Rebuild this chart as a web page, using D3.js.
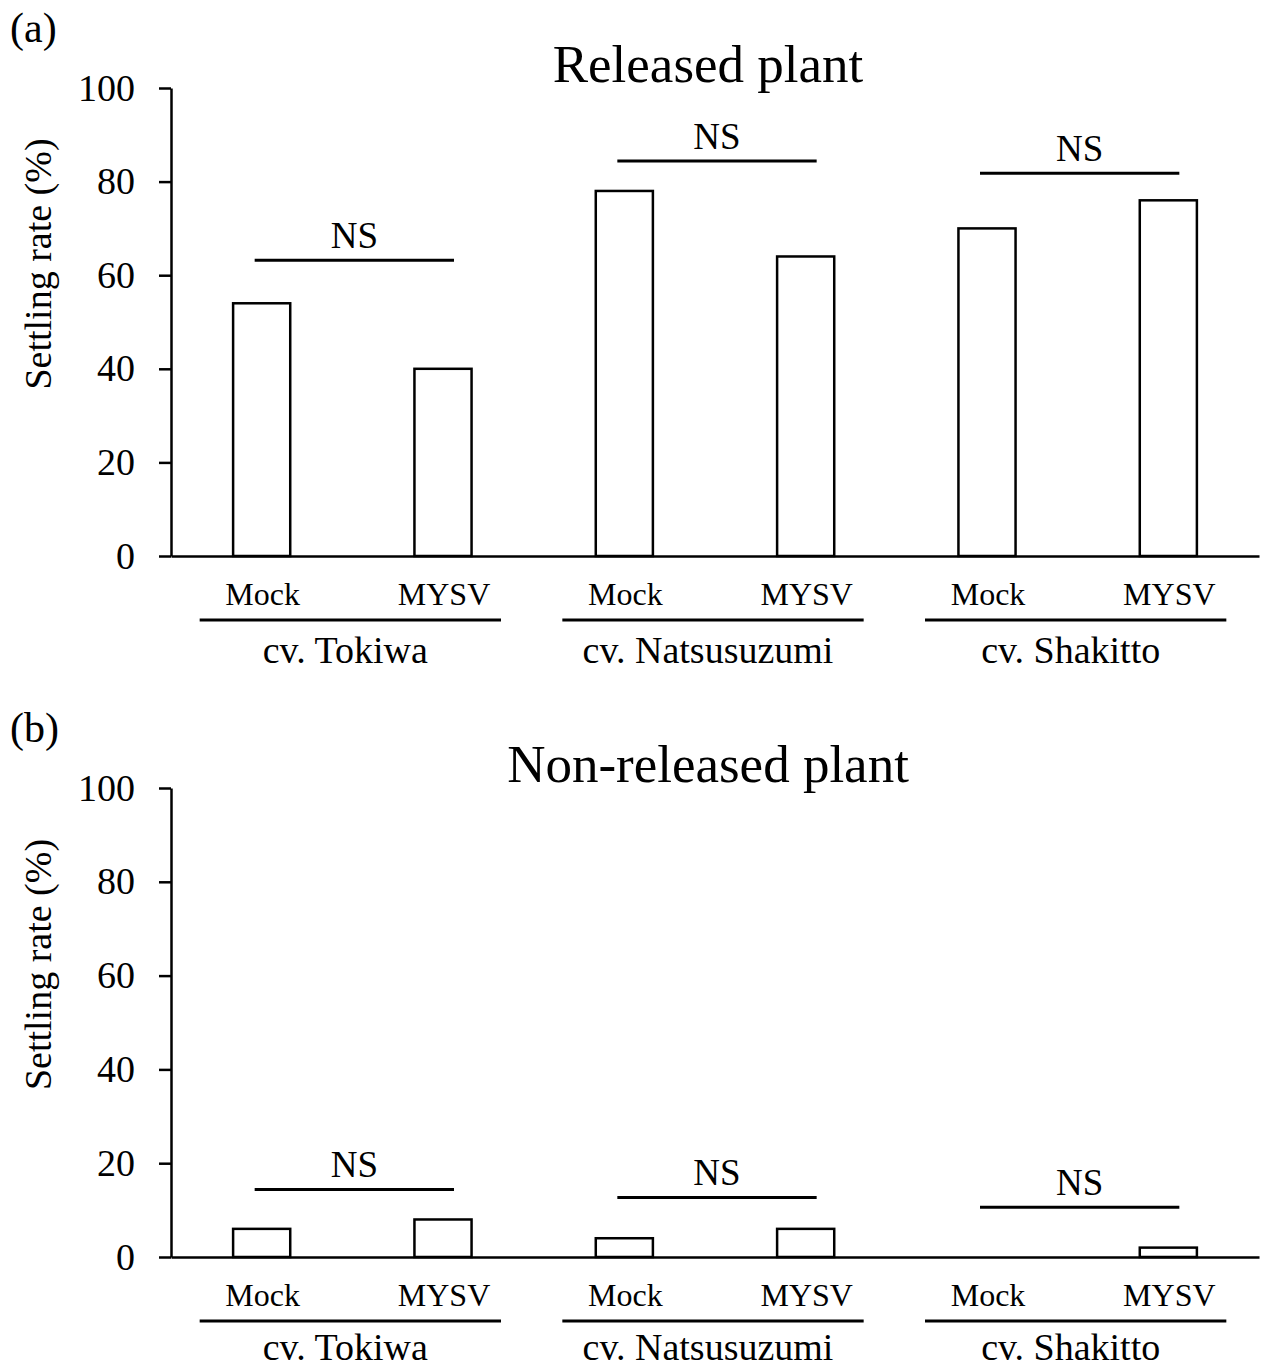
<!DOCTYPE html>
<html><head><meta charset="utf-8">
<script src="https://cdn.jsdelivr.net/npm/d3@7"></script>
<style>
html,body{margin:0;padding:0;background:#fff;}
text{font-family:"Liberation Serif","Times New Roman",serif;fill:#000;}
</style></head>
<body><svg id="c" width="1262" height="1369"></svg>
<script>
// ---- data ----
const cultivars = ["cv. Tokiwa", "cv. Natsusuzumi", "cv. Shakitto"];
const treatments = ["Mock", "MYSV"];
const releasedMock = [54, 78, 70];
const releasedMYSV = [40, 64, 76];
const releasedNS = [63.2, 84.4, 81.8];
const nonReleasedMock = [6, 4, 0];
const nonReleasedMYSV = [8, 6, 2];
const nonReleasedNS = [14.4, 12.7, 10.6];
const yTicks = [0, 20, 40, 60, 80, 100];
const sigLabel = "NS";
const yLabel = "Settling rate (%)";

const panels = [
  {tag: "(a)", title: "Released plant", mock: releasedMock, mysv: releasedMYSV, ns: releasedNS, top: 88, bottom: 556},
  {tag: "(b)", title: "Non-released plant", mock: nonReleasedMock, mysv: nonReleasedMYSV, ns: nonReleasedNS, top: 788, bottom: 1257}
];

const svg = d3.select("#c");
const keys = [];
cultivars.forEach((c, i) => treatments.forEach(t => keys.push(c + "|" + t)));

const x = d3.scaleBand().domain(keys).range([171, 1259]).paddingInner(0.685).paddingOuter(0.3425);
const bw = x.bandwidth();
const cx = k => x(k) + bw / 2;

panels.forEach((p, pi) => {
  const g = svg.append("g");
  const y = d3.scaleLinear().domain([0, 100]).range([p.bottom, p.top]);

  // panel tag & title
  g.append("text").attr("x", 10).attr("y", p.top - 46).attr("font-size", 42).text(p.tag);
  g.append("text").attr("x", 708).attr("y", p.top - 6).attr("text-anchor", "middle").attr("font-size", 53).text(p.title);

  // bars
  const rows = [];
  cultivars.forEach((c, i) => {
    rows.push({k: c + "|Mock", v: p.mock[i]});
    rows.push({k: c + "|MYSV", v: p.mysv[i]});
  });
  g.selectAll("rect.bar").data(rows.filter(d => d.v > 0)).join("rect")
    .attr("x", d => x(d.k)).attr("y", d => y(d.v))
    .attr("width", bw).attr("height", d => y(0) - y(d.v))
    .attr("fill", "#fff").attr("stroke", "#000").attr("stroke-width", 2.5);

  // y axis
  const ya = d3.axisLeft(y).tickValues(yTicks).tickSize(12).tickPadding(24).tickSizeOuter(0);
  const yg = g.append("g").attr("transform", `translate(${x.range()[0]},0)`).call(ya);
  yg.selectAll("path,line").attr("stroke", "#000").attr("stroke-width", 2.5);
  yg.selectAll("text").attr("font-size", 38).attr("font-family", "Liberation Serif").attr("fill", "#000");

  // x axis line
  const xa = d3.axisBottom(x).tickSize(0).tickSizeOuter(0).tickFormat(k => k.split("|")[1]);
  const xg = g.append("g").attr("transform", `translate(0,${y(0)})`).call(xa);
  xg.select("path.domain").attr("stroke", "#000").attr("stroke-width", 2.5);
  xg.selectAll("text").attr("font-size", 32).attr("font-family", "Liberation Serif").attr("fill", "#000")
    .attr("y", 49).attr("dy", 0).attr("dx", 1);

  // group underline and cultivar labels
  cultivars.forEach((c, i) => {
    const a = cx(c + "|Mock"), b = cx(c + "|MYSV");
    g.append("line").attr("x1", a - 62).attr("x2", b + 58)
      .attr("y1", y(0) + 64).attr("y2", y(0) + 64).attr("stroke", "#000").attr("stroke-width", 3.2);
    g.append("text").attr("x", (a + b) / 2 - 7).attr("y", y(0) + (pi === 0 ? 107 : 103))
      .attr("text-anchor", "middle").attr("font-size", 38).text(c);

    // NS line
    const ny = y(p.ns[i]);
    g.append("line").attr("x1", a - 7).attr("x2", b + 11).attr("y1", ny).attr("y2", ny)
      .attr("stroke", "#000").attr("stroke-width", 3);
    g.append("text").attr("x", (a - 7 + b + 11) / 2).attr("y", ny - 12)
      .attr("text-anchor", "middle").attr("font-size", 37).text(sigLabel);
  });

  // y label
  g.append("text").attr("transform", `translate(51,${(p.top + p.bottom) / 2 - 58}) rotate(-90)`)
    .attr("text-anchor", "middle").attr("font-size", 38).text(yLabel);
});
</script></body></html>
